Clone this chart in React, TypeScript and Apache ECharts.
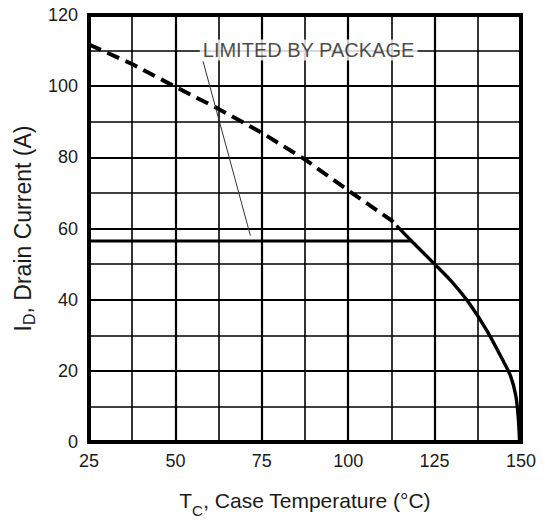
import React, { useEffect, useRef } from "react";
import * as echarts from "echarts";

// Axis ticks
const xTicks = [25, 50, 75, 100, 125, 150];
const yTicks = [0, 20, 40, 60, 80, 100, 120];

// Package-limited current (dashed)
const packageLimitT = [25, 37.5, 50, 62.5, 75, 87.5, 100, 112.5, 114];
const packageLimitI = [111.7, 106.2, 99.8, 93.6, 86.9, 79.4, 70.7, 62.3, 60.8];

// Silicon-limited current (solid curve)
const siliconT = [114, 118.6, 125, 130, 135, 140, 145, 147, 148.5, 149.2, 149.6];
const siliconI = [60.8, 56.2, 50, 45, 39, 31.5, 22.5, 18.5, 13, 7, 0];

// Flat package rating line
const flatT = [25, 118.6];
const flatI = [56.5, 56.5];

// Annotation pointer and label anchor
const pointerT = [58, 71.7];
const pointerI = [107, 58];
const labelAnchor = [57.2, 110];
const labelText = "LIMITED BY PACKAGE";

const FONT = "'Liberation Sans', Arial, Helvetica, sans-serif";
const TXT = "#1a1a1a";

const zip = (a: number[], b: number[]) => a.map((v, i) => [v, b[i]]);

export default function App() {
  const ref = useRef<HTMLDivElement>(null);
  useEffect(() => {
    if (!ref.current) return;
    const chart = echarts.init(ref.current, null, { renderer: "svg" });
    chart.setOption({
      animation: false,
      backgroundColor: "#fff",
      grid: {
        left: 89,
        right: 24,
        top: 15,
        bottom: 76,
        show: true,
        borderColor: "#000",
        borderWidth: 4,
        backgroundColor: "#fff",
      },
      xAxis: {
        type: "value",
        min: xTicks[0],
        max: xTicks[xTicks.length - 1],
        interval: 25,
        axisLine: { show: false },
        axisTick: { show: false },
        axisLabel: { fontSize: 18, color: TXT, fontFamily: FONT, margin: 10 },
        splitLine: { show: true, lineStyle: { color: "#000", width: 2.2 } },
        minorTick: { show: false, splitNumber: 2 },
        minorSplitLine: { show: true, lineStyle: { color: "#000", width: 1.6 } },
        name: "{m|T}{s|C}{m|, Case Temperature (°C)}",
        nameLocation: "middle",
        nameGap: 41,
        nameTextStyle: {
          color: TXT,
          fontFamily: FONT,
          rich: {
            m: { fontSize: 21, color: TXT, fontFamily: FONT },
            s: { fontSize: 15, color: TXT, fontFamily: FONT, padding: [20, 0, 0, 0] },
          },
        },
      },
      yAxis: {
        type: "value",
        min: yTicks[0],
        max: yTicks[yTicks.length - 1],
        interval: 20,
        axisLine: { show: false },
        axisTick: { show: false },
        axisLabel: { fontSize: 18, color: TXT, fontFamily: FONT, margin: 11 },
        splitLine: { show: true, lineStyle: { color: "#000", width: 2.2 } },
        minorTick: { show: false, splitNumber: 2 },
        minorSplitLine: { show: true, lineStyle: { color: "#000", width: 1.6 } },
        name: "{m|I}{s|D}{m|, Drain Current (A)}",
        nameLocation: "middle",
        nameGap: 46,
        nameTextStyle: {
          color: TXT,
          fontFamily: FONT,
          rich: {
            m: { fontSize: 23, color: TXT, fontFamily: FONT },
            s: { fontSize: 16, color: TXT, fontFamily: FONT, padding: [13, 0, 0, 0] },
          },
        },
      },
      series: [
        {
          type: "line",
          data: zip(packageLimitT, packageLimitI),
          symbol: "none",
          lineStyle: { color: "#000", width: 4, type: [13, 7] },
          z: 3,
        },
        {
          type: "line",
          data: zip(siliconT, siliconI),
          symbol: "none",
          smooth: 0.3,
          lineStyle: { color: "#000", width: 3.4 },
          z: 3,
        },
        {
          type: "line",
          data: zip(flatT, flatI),
          symbol: "none",
          lineStyle: { color: "#000", width: 3 },
          z: 3,
        },
        {
          type: "line",
          data: zip(pointerT, pointerI),
          symbol: "none",
          lineStyle: { color: "#333", width: 1 },
          z: 4,
        },
        {
          type: "scatter",
          data: [labelAnchor],
          symbolSize: 1,
          itemStyle: { color: "rgba(0,0,0,0)" },
          z: 5,
          label: {
            show: true,
            formatter: labelText,
            position: [0, 0],
            align: "left",
            verticalAlign: "middle",
            fontSize: 20,
            color: TXT,
            fontFamily: FONT,
            backgroundColor: "#fff",
            padding: [1, 3, 0, 3],
          },
        },
      ],
    });
    return () => chart.dispose();
  }, []);
  return (
    <div
      ref={ref}
      style={{ position: "fixed", left: 0, top: 0, width: 545, height: 523 }}
    />
  );
}
